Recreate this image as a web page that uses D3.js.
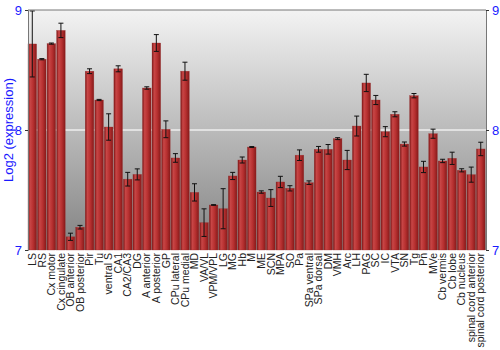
<!DOCTYPE html>
<html lang="en">
<head>
<meta charset="UTF-8">
<title>Log2 expression</title>
<style>
  body { margin: 0; background: #fff; }
  svg { font-family: "Liberation Sans", Arial, sans-serif; }
</style>
</head>
<body>
<div id="chart"></div>
<script src="https://d3js.org/d3.v7.min.js"></script>
<script>
const regions = ["LS", "RS", "Cx motor", "Cx cingulate", "OB anterior", "OB posterior", "Pir", "Tu",
  "ventral S", "CA1", "CA2/CA3", "DG", "A anterior", "A posterior", "GP", "CPu lateral", "CPu medial",
  "MD", "VA/VL", "VPM/VPL", "LG", "MG", "Hb", "M", "ME", "SCN", "MPA", "SO", "Pa", "SPa ventral",
  "SPa dorsal", "DM", "VMH", "Arc", "LH", "PAG", "SC", "IC", "VTA", "SN", "Tg", "Pn", "MVe",
  "Cb vermis", "Cb lobe", "Cb nucleus", "spinal cord anterior", "spinal cord posterior"];

const expression = [8.717, 8.59, 8.72, 8.83, 7.11, 7.19, 8.49, 8.25,
  8.025, 8.51, 7.59, 7.63, 8.35, 8.725, 8.006, 7.767, 8.49,
  7.48, 7.228, 7.375, 7.344, 7.617, 7.75, 7.858, 7.483, 7.433, 7.567, 7.514, 7.79, 7.561,
  7.839, 7.839, 7.928, 7.75, 8.033, 8.392, 8.25, 7.986, 8.131, 7.883, 8.286, 7.692, 7.969,
  7.742, 7.764, 7.664, 7.628, 7.842];

const errors = [0.275, 0.005, 0.005, 0.06, 0.03, 0.015, 0.02, 0.005,
  0.11, 0.025, 0.057, 0.046, 0.01, 0.07, 0.07, 0.036, 0.075,
  0.072, 0.115, 0.003, 0.167, 0.03, 0.025, 0.004, 0.01, 0.07, 0.047, 0.022, 0.044, 0.015,
  0.024, 0.04, 0.008, 0.08, 0.083, 0.072, 0.038, 0.042, 0.021, 0.017, 0.018, 0.047, 0.038,
  0.014, 0.051, 0.013, 0.063, 0.056];

const yTicks = [7, 8, 9];

const width = 500, height = 350;
const margin = {top: 10, right: 14, bottom: 100, left: 28};
const innerW = width - margin.left - margin.right;
const innerH = height - margin.top - margin.bottom;

const svg = d3.select("#chart").append("svg")
  .attr("width", width)
  .attr("height", height);

const defs = svg.append("defs");

const bg = defs.append("linearGradient")
  .attr("id", "bgGrad")
  .attr("x1", 0).attr("y1", 0).attr("x2", 0).attr("y2", 1);
bg.append("stop").attr("offset", "0%").attr("stop-color", "#f3f3f3");
bg.append("stop").attr("offset", "100%").attr("stop-color", "#828282");

const barGrad = defs.append("linearGradient")
  .attr("id", "barGrad")
  .attr("x1", 0).attr("y1", 0).attr("x2", 1).attr("y2", 0);
barGrad.append("stop").attr("offset", "0%").attr("stop-color", "#7c1414");
barGrad.append("stop").attr("offset", "25%").attr("stop-color", "#c84646");
barGrad.append("stop").attr("offset", "60%").attr("stop-color", "#b73030");
barGrad.append("stop").attr("offset", "100%").attr("stop-color", "#861a1a");

const g = svg.append("g")
  .attr("transform", `translate(${margin.left},${margin.top})`);

const x = d3.scaleBand()
  .domain(regions)
  .range([0, innerW])
  .paddingInner(0.1)
  .paddingOuter(0.05)
  .align(0);

const y = d3.scaleLinear()
  .domain([7, 9])
  .range([innerH, 0]);

// background
g.append("rect")
  .attr("width", innerW)
  .attr("height", innerH)
  .attr("fill", "url(#bgGrad)");

// grid line at 8
g.append("line")
  .attr("x1", 0).attr("x2", innerW)
  .attr("y1", y(8)).attr("y2", y(8))
  .attr("stroke", "#eeeeee")
  .attr("stroke-width", 1.5);

const data = regions.map((r, i) => ({name: r, value: expression[i], err: errors[i]}));

g.selectAll(".bar")
  .data(data)
  .enter().append("rect")
  .attr("class", "bar")
  .attr("x", d => x(d.name))
  .attr("y", d => y(d.value))
  .attr("width", x.bandwidth())
  .attr("height", d => innerH - y(d.value))
  .attr("fill", "url(#barGrad)")
  .attr("stroke", "#9a2a2a")
  .attr("stroke-width", 0.5)
  .attr("stroke-opacity", 0.6);

// error bars
const eb = g.selectAll(".err")
  .data(data)
  .enter().append("g")
  .attr("class", "err")
  .attr("transform", d => `translate(${x(d.name) + x.bandwidth() / 2},0)`);

eb.append("line")
  .attr("y1", d => y(d.value + d.err))
  .attr("y2", d => y(d.value - d.err))
  .attr("stroke", "#111")
  .attr("stroke-width", 1);
eb.append("line")
  .attr("x1", -2.5).attr("x2", 2.5)
  .attr("y1", d => y(d.value + d.err))
  .attr("y2", d => y(d.value + d.err))
  .attr("stroke", "#111");
eb.append("line")
  .attr("x1", -2.5).attr("x2", 2.5)
  .attr("y1", d => y(d.value - d.err))
  .attr("y2", d => y(d.value - d.err))
  .attr("stroke", "#111");

// frame line on top
g.append("line")
  .attr("x1", 0).attr("x2", innerW).attr("y1", 0).attr("y2", 0)
  .attr("stroke", "#777");

// left axis
const yLeft = g.append("g")
  .call(d3.axisLeft(y).tickValues(yTicks).tickFormat(d3.format("d")).tickSize(3));
yLeft.select(".domain").attr("stroke", "#777");
yLeft.selectAll(".tick line").attr("stroke", "#333");
yLeft.selectAll("text").attr("fill", "#1a1aff").attr("font-size", 13);

// right axis
const yRight = g.append("g")
  .attr("transform", `translate(${innerW},0)`)
  .call(d3.axisRight(y).tickValues(yTicks).tickFormat(d3.format("d")).tickSize(3));
yRight.select(".domain").attr("stroke", "#777");
yRight.selectAll(".tick line").attr("stroke", "#333");
yRight.selectAll("text").attr("fill", "#1a1aff").attr("font-size", 13);

// x labels
const xAxis = g.append("g")
  .attr("transform", `translate(0,${innerH})`)
  .call(d3.axisBottom(x).tickSize(0));
xAxis.select(".domain").remove();
xAxis.selectAll("text")
  .attr("transform", "rotate(-90)")
  .attr("text-anchor", "end")
  .attr("x", -3)
  .attr("y", 0)
  .attr("dy", "0.35em")
  .attr("fill", "#222")
  .attr("font-size", 10.5);

// y label
svg.append("text")
  .attr("transform", `translate(13,${margin.top + innerH / 2}) rotate(-90)`)
  .attr("text-anchor", "middle")
  .attr("fill", "#1a1aff")
  .attr("font-size", 13)
  .text("Log2 (expression)");
</script>
</body>
</html>
